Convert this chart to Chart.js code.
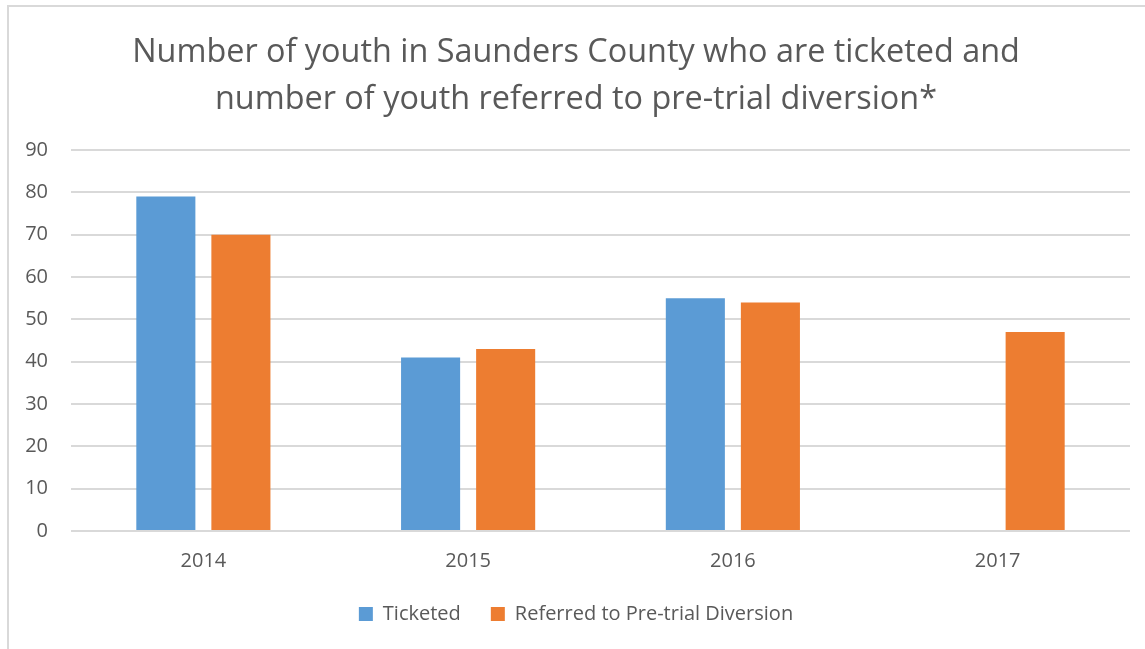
<!DOCTYPE html>
<html lang="en">
<head>
<meta charset="UTF-8" />
<title>Saunders County youth</title>
<script src="https://cdn.jsdelivr.net/npm/chart.js"></script>
<style>
  html, body { margin: 0; padding: 0; background: #fff; }
  .frame {
    position: absolute; left: 7px; top: 5px;
    width: 1150px; height: 660px;
    border: 2px solid #d9d9d9; box-sizing: border-box;
  }
  .wrap { position: absolute; left: 0; top: 0; width: 1145px; height: 649px; }
</style>
</head>
<body>
<div class="frame"></div>
<div class="wrap"><canvas id="chart"></canvas></div>
<script>
// data
const years = ['2014', '2015', '2016', '2017'];
const ticketed = [79, 41, 55, null];
const referred = [70, 43, 54, 47];
const titleLines = [
  'Number of youth in Saunders County who are ticketed and',
  'number of youth referred to pre-trial diversion*'
];

const grey = '#595959';
const font = 'Open Sans';

new Chart(document.getElementById('chart'), {
  type: 'bar',
  data: {
    labels: years,
    datasets: [
      { label: 'Ticketed', data: ticketed, backgroundColor: '#5b9bd5' },
      { label: 'Referred to Pre-trial Diversion', data: referred, backgroundColor: '#ed7d31' }
    ]
  },
  options: {
    responsive: true,
    maintainAspectRatio: false,
    animation: false,
    categoryPercentage: 0.567,
    barPercentage: 0.787,
    // a bit more on the left so title and legend sit a little right of centre, like the original
    layout: { padding: { left: 22, right: 15, top: 5, bottom: 15 } },
    plugins: {
      title: {
        display: true,
        text: titleLines,
        color: grey,
        font: { family: font, size: 32.4, weight: 'normal', lineHeight: 1.45 },
        padding: { top: 24, bottom: 27 }
      },
      legend: {
        position: 'bottom',
        labels: {
          color: grey,
          font: { family: font, size: 20 },
          boxWidth: 14,
          boxHeight: 14,
          padding: 30
        }
      },
      tooltip: { enabled: false }
    },
    scales: {
      x: {
        grid: { display: false, drawTicks: false },
        border: { display: false },
        ticks: { color: grey, font: { family: font, size: 20 }, padding: 18 },
        afterFit: s => { s.height = 43; }
      },
      y: {
        min: 0,
        max: 90,
        ticks: { stepSize: 10, color: grey, font: { family: font, size: 20 }, padding: 23 },
        grid: { color: '#d9d9d9', lineWidth: 2, drawTicks: false },
        border: { display: false },
        afterFit: s => { s.width = 49; }
      }
    }
  }
});
</script>
</body>
</html>
